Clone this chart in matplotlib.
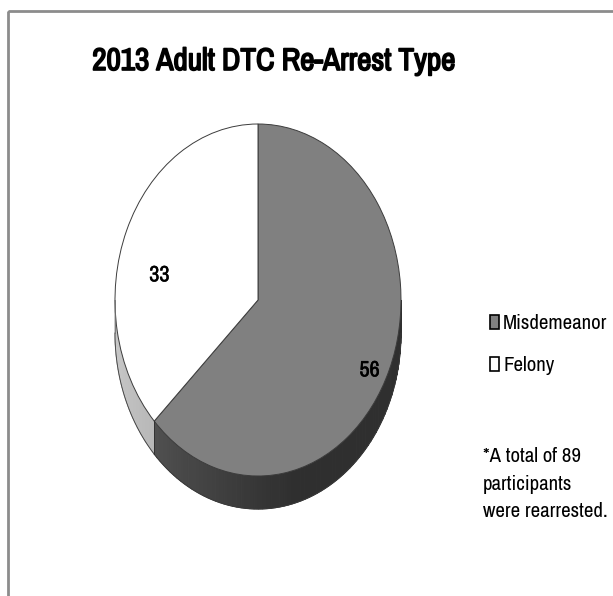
"""
Re-arrest type breakdown for the 2013 adult DTC cohort, drawn as an
Excel-style 3D pie (flat top face plus a shaded side wall).
"""

import matplotlib
matplotlib.use("Agg")
import matplotlib.pyplot as plt
import matplotlib.patheffects as pe
import numpy as np
from matplotlib.colors import to_rgb
from matplotlib.patches import Patch, Polygon, Rectangle

categories = ["Misdemeanor", "Felony"]
counts = [56, 33]
face_colors = ["#808080", "#ffffff"]
# side wall shading: colour at the start / end of each slice's visible wall
side_colors = [("#505050", "#2f2f2f"), ("#cccccc", "#b8b8b8")]
label_pos = [(0.78, -0.40), (-0.69, 0.14)]
note = "*A total of 89\nparticipants\nwere rearrested."

plt.rcParams["font.family"] = ["Archivo Narrow", "Liberation Sans", "DejaVu Sans"]

# the narrow face only ships in a regular weight, thicken it with a stroke
heavy = [pe.withStroke(linewidth=1.2, foreground="black")]
medium = [pe.withStroke(linewidth=0.35, foreground="black")]

W, H = 613, 596
fig = plt.figure(figsize=(W / 100, H / 100), dpi=100)
fig.patch.set_facecolor("white")

# outer chart-area border (only top and left edges fall inside the canvas)
frame = fig.add_axes([0, 0, 1, 1])
frame.set_xlim(0, W)
frame.set_ylim(H, 0)
frame.axis("off")
frame.add_patch(Rectangle((7.5, 11), W + 10, H + 10, fill=False,
                          edgecolor="#8c8c8c", lw=2))

# pie axes: unit circle stretched into an ellipse of rx=143, ry=176 px
CX, CY, RX, RY = 258, 300, 143, 176
XL, YL = (-1.2, 1.2), (-1.35, 1.1)
left = CX + XL[0] * RX
top = CY - YL[1] * RY
w_px = (XL[1] - XL[0]) * RX
h_px = (YL[1] - YL[0]) * RY
ax = fig.add_axes([left / W, (H - top - h_px) / H, w_px / W, h_px / H])
ax.patch.set_alpha(0)

DEPTH = 33 / RY

# slice angle ranges (degrees, counter-clockwise), slices run clockwise
# from 12 o'clock
total = sum(counts)
start = 90.0
spans = []
for c in counts:
    sweep = 360.0 * c / total
    spans.append((start - sweep, start))
    start -= sweep


def mix(c1, c2, t):
    a, b = np.array(to_rgb(c1)), np.array(to_rgb(c2))
    return tuple(a + (b - a) * t)


def front_part(a0, a1):
    """Part of [a0, a1] that lies on the front half (180..360 deg)."""
    k = np.floor(a0 / 360.0)
    a0, a1 = a0 - 360 * k, a1 - 360 * k
    for base in (0, 360):
        lo, hi = max(a0, 180 + base), min(a1, 360 + base)
        if hi > lo:
            return lo - base, hi - base
    return None


# side wall, drawn as thin strips so the shading can change along it
for (a0, a1), (c_start, c_end) in zip(spans, side_colors):
    part = front_part(a0, a1)
    if part is None:
        continue
    lo, hi = part
    edges = np.linspace(lo, hi, 80)
    for i in range(len(edges) - 1):
        t = min(1.0, (edges[i] - lo) / min(60.0, hi - lo))
        col = mix(c_start, c_end, t)
        th = np.radians(np.linspace(edges[i], edges[i + 1], 4))
        xs, ys = np.cos(th), np.sin(th)
        pts = np.r_[np.c_[xs, ys], np.c_[xs[::-1], ys[::-1] - DEPTH]]
        ax.add_patch(Polygon(pts, closed=True, facecolor=col, edgecolor=col,
                             lw=0.8))
    th = np.radians(np.linspace(lo, hi, 120))
    ax.plot(np.cos(th), np.sin(th) - DEPTH, color="#3a3a3a", lw=0.6)

cut = np.radians(spans[0][0])
ax.plot([np.cos(cut)] * 2, [np.sin(cut), np.sin(cut) - DEPTH],
        color="#303030", lw=0.7)
ax.plot([-1, -1], [0, -DEPTH], color="#707070", lw=0.6)

# top face
ax.pie(counts, colors=face_colors, startangle=90, counterclock=False,
       radius=1.0, wedgeprops=dict(edgecolor="#3c3c3c", linewidth=0.7))
ax.set_aspect("auto")
ax.set_xlim(*XL)
ax.set_ylim(*YL)
ax.axis("off")

for (x, y), c in zip(label_pos, counts):
    ax.text(x, y, str(c), ha="center", va="center", fontsize=16,
            color="black", path_effects=medium)

fig.text(274 / W, 1 - 61 / H, "2013 Adult DTC Re-Arrest Type",
         ha="center", va="center", fontsize=22.5, path_effects=heavy)

handles = [Patch(facecolor=fc, edgecolor="black", lw=1.2) for fc in face_colors]
fig.legend(handles, categories, loc="upper left",
           bbox_to_anchor=(482 / W, 1 - 306 / H), frameon=False,
           fontsize=15, handlelength=0.42, handleheight=0.6,
           handletextpad=0.2, labelspacing=1.1, borderaxespad=0)

fig.text(483 / W, 1 - 447 / H, note, ha="left", va="top", fontsize=15,
         linespacing=1.58)

fig.savefig("out.png", dpi=100)
